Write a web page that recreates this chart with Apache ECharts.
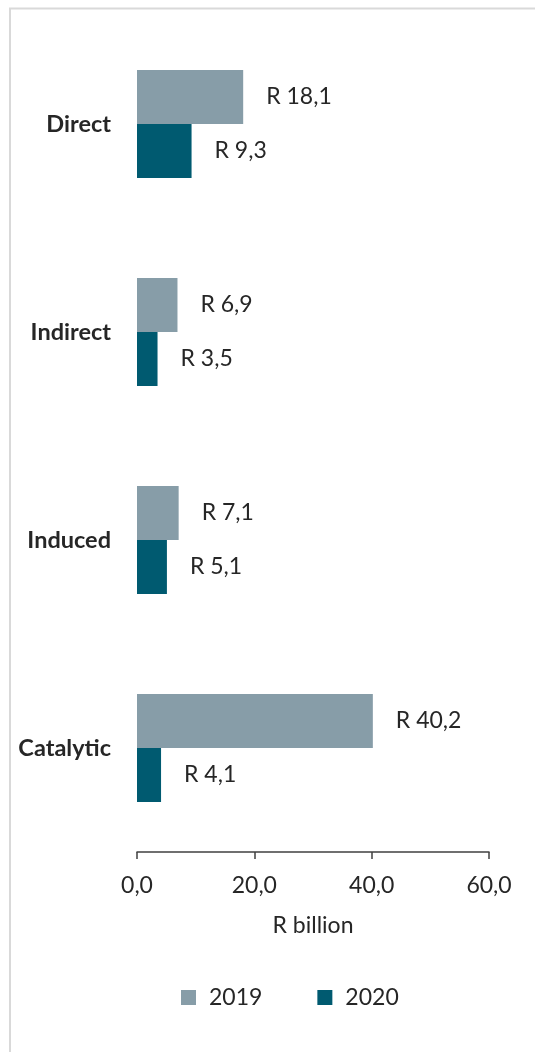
<!DOCTYPE html>
<html>
<head>
<meta charset="utf-8">
<script src="https://cdn.jsdelivr.net/npm/echarts@6/dist/echarts.min.js"></script>
<style>
  html, body { margin: 0; padding: 0; background: #fff; }
  #chart { width: 535px; height: 1052px; }
</style>
</head>
<body>
<div id="chart"></div>
<script>
// Economic impact by channel, R billion
const categories = ['Direct', 'Indirect', 'Induced', 'Catalytic'];
const values2019 = [18.1, 6.9, 7.1, 40.2];
const values2020 = [9.3, 3.5, 5.1, 4.1];
const seriesNames = ['2019', '2020'];
const axisTicks = [0, 20, 40, 60];

const fmt = v => v.toFixed(1).replace('.', ',');
const FONT = 'Lato, "Open Sans", sans-serif';
const TEXT = '#262626';
const SIZE = 23;

const chart = echarts.init(document.getElementById('chart'), null, { renderer: 'canvas' });

const barLabel = {
  show: true,
  position: 'right',
  distance: 23,
  formatter: p => 'R ' + fmt(p.value),
  fontFamily: FONT,
  fontSize: SIZE,
  color: TEXT
};

chart.setOption({
  animation: false,
  backgroundColor: '#ffffff',
  graphic: [{
    type: 'rect',
    shape: { x: 10, y: 8.5, width: 700, height: 1200 },
    style: { fill: 'none', stroke: '#d9d9d9', lineWidth: 2 },
    silent: true
  }],
  grid: { left: 137, right: 46, top: 20, bottom: 200, containLabel: false },
  xAxis: {
    type: 'value',
    min: axisTicks[0],
    max: axisTicks[axisTicks.length - 1],
    interval: 20,
    splitLine: { show: false },
    axisLine: { show: true, lineStyle: { color: '#404040', width: 1.5 } },
    axisTick: { show: true, length: 7, lineStyle: { color: '#404040', width: 1.5 } },
    axisLabel: { formatter: v => fmt(v), fontFamily: FONT, fontSize: SIZE, color: TEXT, margin: 22 },
    name: 'R billion',
    nameLocation: 'middle',
    nameGap: 62,
    nameTextStyle: { fontFamily: FONT, fontSize: SIZE, color: TEXT }
  },
  yAxis: {
    type: 'category',
    data: categories,
    inverse: true,
    axisLine: { show: false },
    axisTick: { show: false },
    axisLabel: { fontFamily: FONT, fontSize: 23.5, fontWeight: 'bold', color: TEXT, margin: 26 }
  },
  legend: {
    data: seriesNames,
    left: 181,
    top: 986,
    padding: 0,
    itemWidth: 15,
    itemHeight: 15,
    itemGap: 55,
    icon: 'rect',
    textStyle: { fontFamily: FONT, fontSize: SIZE, color: TEXT, padding: [0, 0, 0, 8] }
  },
  series: [
    {
      name: seriesNames[0],
      type: 'bar',
      data: values2019,
      barWidth: 54,
      barGap: '0%',
      itemStyle: { color: '#879da8' },
      label: barLabel
    },
    {
      name: seriesNames[1],
      type: 'bar',
      data: values2020,
      barWidth: 54,
      barGap: '0%',
      itemStyle: { color: '#005a70' },
      label: barLabel
    }
  ]
});
</script>
</body>
</html>
